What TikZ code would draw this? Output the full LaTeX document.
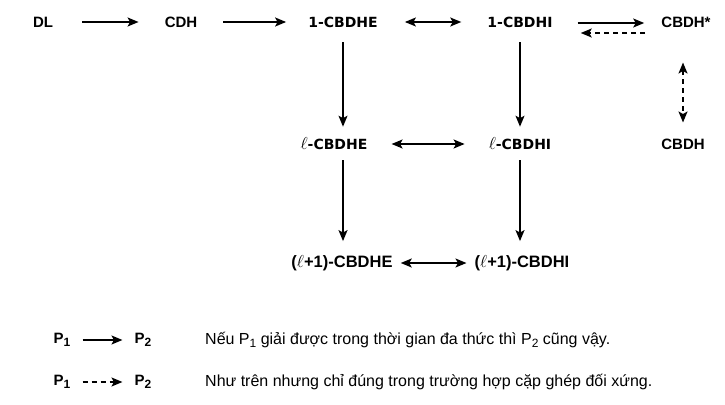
\documentclass[tikz,border=0pt]{standalone}
\usepackage{fontspec}
\setmainfont{Liberation Sans}
\newfontfamily\heavyfont{DejaVu Sans}
\usetikzlibrary{arrows.meta}

\newcommand{\lsub}[1]{\raisebox{-0.35ex}{\fontsize{12}{12}\selectfont #1}}
\newcommand{\bigell}{{\fontsize{19}{19}\selectfont$\ell$}}

\begin{document}
\begin{tikzpicture}[x=1pt, y=-1pt, line cap=butt,
		lbl/.style={font=\fontsize{15}{18}\selectfont\bfseries, inner sep=0pt},
		blbl/.style={font=\fontsize{16.5}{19}\selectfont\bfseries, inner sep=0pt},
		hlbl/.style={font=\fontsize{14}{17}\selectfont\heavyfont\bfseries, inner sep=0pt},
		note/.style={font=\fontsize{16}{19}\selectfont, inner sep=0pt, anchor=west},
		imp/.style={-{Stealth[length=11pt,width=9pt,inset=2.5pt]}, line width=1.6pt},
		eqv/.style={{Stealth[length=11pt,width=9pt,inset=2.5pt]}-{Stealth[length=11pt,width=9pt,inset=2.5pt]}, line width=1.6pt},
		weak/.style={dash pattern=on 5pt off 4pt}]

	% frame
	\useasboundingbox (0,0) rectangle (725,404);

	% constants
	\pgfmathsetmacro{\rowa}{22};
	\pgfmathsetmacro{\rowb}{144};
	\pgfmathsetmacro{\rowc}{263};

	% first row
	\node[lbl] (dl) at (43,\rowa) {DL};
	\node[lbl] (cdh) at (181,\rowa) {CDH};
	\node[hlbl] (e1) at (343,\rowa) {1-CBDHE};
	\node[hlbl] (i1) at (520,\rowa) {1-CBDHI};
	\node[lbl] (cstar) at (686,\rowa) {CBDH*};

	% second row
	\node[hlbl] (el) at (334,\rowb) {\bigell-CBDHE};
	\node[hlbl] (il) at (520,\rowb) {\bigell-CBDHI};
	\node[lbl] (cbdh) at (683,\rowb) {CBDH};

	% third row
	\node[blbl] (en) at (342,\rowc) {(\bigell+1)-CBDHE};
	\node[blbl] (in) at (522,\rowc) {(\bigell+1)-CBDHI};

	% horizontal reductions
	\draw[imp, shorten <=29pt, shorten >=26pt] (dl) -- (cdh);
	\draw[imp, shorten <=26pt, shorten >=22pt] (cdh) -- (e1);
	\draw[eqv, shorten <=27pt, shorten >=26pt] (e1) -- (i1);
	\draw[imp, shorten <=25pt, shorten >=17pt]
		([yshift=-1pt]i1.east) -- ([yshift=-1pt]cstar.west);
	\draw[imp, weak, shorten <=16pt, shorten >=28pt]
		([yshift=-11pt]cstar.west) -- ([yshift=-11pt]i1.east);
	\draw[eqv, shorten <=24pt, shorten >=24pt] (el) -- (il);
	\draw[eqv, shorten <=8pt, shorten >=8pt] (en) -- (in);

	% vertical reductions
	\draw[imp, shorten <=15pt, shorten >=11pt] (e1.south) -- (e1.south |- el.north);
	\draw[imp, shorten <=15pt, shorten >=11pt] (i1.south) -- (i1.south |- il.north);
	\draw[imp, shorten <=10pt, shorten >=14pt] (e1.south |- el.south) -- (e1.south |- en.north);
	\draw[imp, shorten <=10pt, shorten >=14pt] (il.south) -- (il.south |- in.north);
	\draw[eqv, weak, shorten <=35pt, shorten >=16pt]
		(cstar.south -| cbdh) -- (cbdh.north);

	% legend
	\node[lbl] (pa) at (62,340) {P\lsub{1}};
	\node[lbl] (pb) at (143,340) {P\lsub{2}};
	\node[lbl] (pc) at (62,382) {P\lsub{1}};
	\node[lbl] (pd) at (143,382) {P\lsub{2}};
	\draw[imp, shorten <=12pt, shorten >=12pt] (pa) -- (pb);
	\draw[imp, weak, shorten <=12pt, shorten >=12pt] (pc) -- (pd);
	\node[note] (na) at (205,340) {Nếu P\lsub{1} giải được trong thời gian đa thức thì P\lsub{2} cũng vậy.};
	\node[note] (nb) at (205,382) {Như trên nhưng chỉ đúng trong trường hợp cặp ghép đối xứng.};

\end{tikzpicture}
\end{document}
